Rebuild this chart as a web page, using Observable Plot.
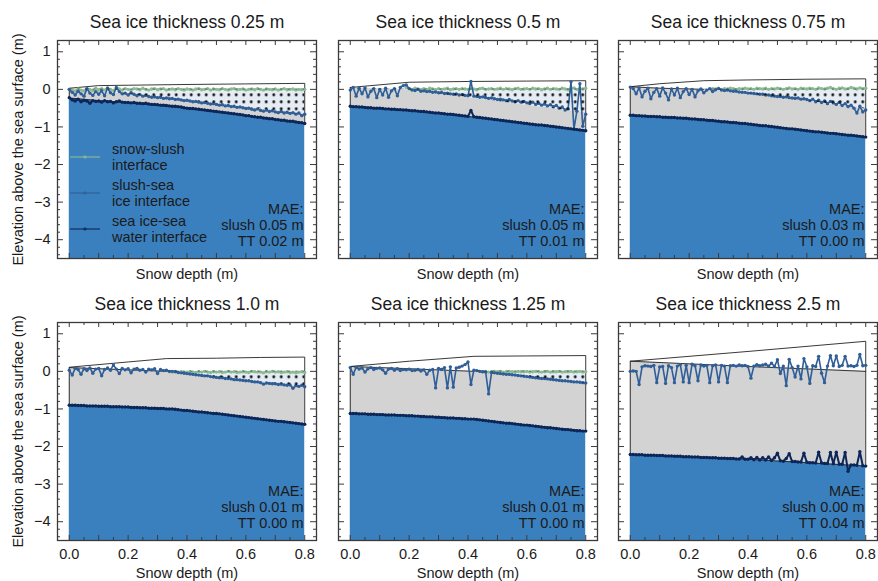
<!DOCTYPE html>
<html><head><meta charset="utf-8">
<script src="https://cdn.jsdelivr.net/npm/d3@7"></script>
<script src="https://cdn.jsdelivr.net/npm/@observablehq/plot@0.6"></script>
<style>
html,body{margin:0;padding:0;background:#fff;}
#chart{position:relative;width:878px;height:581px;overflow:hidden;font-family:"Liberation Sans",Arial,Helvetica,sans-serif;}
</style></head><body><div id="chart"></div>
<script>
// ---------- shared axes / labels ----------
const titles = ["Sea ice thickness 0.25 m","Sea ice thickness 0.5 m","Sea ice thickness 0.75 m","Sea ice thickness 1.0 m","Sea ice thickness 1.25 m","Sea ice thickness 2.5 m"];
const maeSlush = ["0.05","0.05","0.03","0.01","0.01","0.00"];
const maeTT = ["0.02","0.01","0.00","0.00","0.00","0.04"];
const xLabel = "Snow depth (m)";
const yLabel = "Elevation above the sea surface (m)";
const legendLabels = [["snow-slush","interface"],["slush-sea","ice interface"],["sea ice-sea","water interface"]];
const xDomain = [-0.04, 0.84];
const yDomain = [-4.5, 1.3];
const xTickLabels = [0, 0.2, 0.4, 0.6, 0.8];
const xMajorTicks = [0,0.1,0.2,0.3,0.4,0.5,0.6,0.7,0.8];
const xMinorTicks = [0.05,0.15,0.25,0.35,0.45,0.55,0.65,0.75];
const yMajorTicks = [-4,-3,-2,-1,0,1];
const yMinorTicks = [-4.4,-4.2,-3.8,-3.6,-3.4,-3.2,-2.8,-2.6,-2.4,-2.2,-1.8,-1.6,-1.4,-1.2,-0.8,-0.6,-0.4,-0.2,0.2,0.4,0.6,0.8,1.2];

// snow depth sample positions of the estimated interfaces
const snowDepth = [0.00,0.01,0.02,0.03,0.04,0.05,0.06,0.07,0.08,0.09,
0.10,0.11,0.12,0.13,0.14,0.15,0.16,0.17,0.18,0.19,
0.20,0.21,0.22,0.23,0.24,0.25,0.26,0.27,0.28,0.29,
0.30,0.31,0.32,0.33,0.34,0.35,0.36,0.37,0.38,0.39,
0.40,0.41,0.42,0.43,0.44,0.45,0.46,0.47,0.48,0.49,
0.50,0.51,0.52,0.53,0.54,0.55,0.56,0.57,0.58,0.59,
0.60,0.61,0.62,0.63,0.64,0.65,0.66,0.67,0.68,0.69,
0.70,0.71,0.72,0.73,0.74,0.75,0.76,0.77,0.78,0.79,0.80];

// ---------- true layer geometry (knots) ----------
const knotX025 = [0, 0.1, 0.2, 0.4, 0.6, 0.8];
const snowTop025 = [0.03, 0.10, 0.11, 0.13, 0.145, 0.16];
const iceTop025 = [0.02, -0.06, -0.13, -0.28, -0.48, -0.65];
const iceBottom025 = [-0.23, -0.30, -0.35, -0.50, -0.70, -0.90];

const knotX050 = [0, 0.2, 0.4, 0.6, 0.8];
const snowTop050 = [0.05, 0.19, 0.21, 0.22, 0.23];
const iceTop050 = [0.05, -0.02, -0.22, -0.42, -0.62];
const iceBottom050 = [-0.45, -0.56, -0.72, -0.91, -1.10];

const knotX075 = [0, 0.1, 0.25, 0.4, 0.6, 0.8];
const snowTop075 = [0.07, 0.15, 0.23, 0.25, 0.27, 0.28];
const iceTop075 = [0.07, 0.03, 0.0, -0.12, -0.30, -0.52];
const iceBottom075 = [-0.69, -0.73, -0.80, -0.92, -1.10, -1.27];

const knotX100 = [0, 0.2, 0.33, 0.5, 0.65, 0.8];
const snowTop100 = [0.11, 0.25, 0.34, 0.35, 0.37, 0.38];
const iceTop100 = [0.10, 0.04, 0.0, -0.15, -0.27, -0.40];
const iceBottom100 = [-0.90, -0.95, -0.99, -1.12, -1.27, -1.41];

const knotX125 = [0, 0.2, 0.42, 0.6, 0.8];
const snowTop125 = [0.13, 0.27, 0.40, 0.41, 0.42];
const iceTop125 = [0.13, 0.07, 0.0, -0.14, -0.32];
const iceBottom125 = [-1.12, -1.18, -1.27, -1.43, -1.59];

const knotX250 = [0, 0.4, 0.8];
const snowTop250 = [0.27, 0.53, 0.80];
const iceTop250 = [0.27, 0.13, 0.0];
const iceBottom250 = [-2.21, -2.34, -2.52];

// ---------- estimated interfaces ----------
// snow-slush interface (start index into snowDepth + values)
const snowSlushFrom025 = 0;
const snowSlush025 = [0.00,-0.03,-0.05,0.01,-0.02,-0.04,0.02,0.00,-0.03,0.03,
-0.01,0.02,-0.02,0.04,0.00,-0.03,0.03,0.01,-0.02,0.02,
0.00,-0.02,0.02,0.01,-0.01,0.03,0.00,-0.02,0.01,0.02,
-0.01,0.01,0.02,-0.02,0.00,0.01,-0.01,0.02,0.00,-0.02,
0.01,0.00,-0.02,0.01,0.02,-0.01,0.00,0.02,-0.02,0.01,
0.00,-0.01,0.02,0.00,-0.02,0.01,0.02,-0.01,0.00,0.01,
-0.02,0.00,0.01,-0.01,0.02,0.00,-0.02,0.01,0.00,-0.01,
0.01,-0.02,0.00,0.02,-0.01,0.00,0.01,-0.02,0.00,-0.01,0.00];
const snowSlushFrom050 = 19;
const snowSlush050 = [0.05,0.02,0.00,0.03,0.01,-0.01,0.02,0.00,0.03,0.01,-0.01,
0.02,0.00,0.01,0.03,-0.01,0.01,0.02,0.00,0.02,0.01,
0.00,0.02,0.01,-0.01,0.02,0.03,0.00,0.01,0.02,0.00,
0.01,0.03,0.00,0.02,0.01,-0.01,0.02,0.03,0.00,0.01,
0.02,0.00,0.03,0.01,0.02,-0.01,0.01,0.03,0.00,0.02,
0.01,0.00,0.03,0.01,-0.01,0.02,0.04,0.00,0.02,0.01,0.03];
const snowSlushFrom075 = 28;
const snowSlush075 = [0.02,0.01,0.03,0.00,0.02,0.01,0.03,0.02,0.00,0.02,0.01,0.03,
0.01,0.02,0.00,0.03,0.02,0.01,0.03,0.00,0.02,0.01,
0.03,0.02,0.00,0.02,0.04,0.01,0.02,0.00,0.03,0.02,
0.01,0.03,0.02,0.00,0.04,0.02,0.01,0.03,0.05,0.02,
0.00,0.03,0.04,0.01,0.02,0.05,0.03,0.01,0.04,0.02,0.03];
const snowSlushFrom100 = 34;
const snowSlush100 = [-0.01,-0.02,0.00,-0.02,-0.01,-0.03,
-0.02,-0.01,-0.02,-0.03,-0.01,-0.02,0.00,-0.02,-0.03,-0.01,
-0.02,-0.01,-0.03,-0.02,0.00,-0.02,-0.01,-0.03,-0.02,-0.01,
-0.02,-0.03,0.00,-0.01,-0.02,-0.02,-0.04,-0.01,-0.02,0.00,
-0.02,-0.01,-0.03,-0.02,-0.01,-0.03,-0.02,-0.04,-0.02,-0.01,-0.03];
const snowSlushFrom125 = 44;
const snowSlush125 = [0.00,-0.01,0.00,-0.02,-0.01,0.00,
-0.01,0.00,-0.02,-0.01,0.00,-0.01,-0.02,0.00,-0.01,-0.01,
0.00,-0.02,-0.01,0.00,-0.01,-0.02,-0.01,0.00,-0.02,-0.01,
-0.01,0.00,-0.02,-0.01,-0.01,0.00,-0.02,-0.01,0.00,-0.02,-0.01];
const snowSlushFrom250 = 0;
const snowSlush250 = [];

// slush-sea ice interface
const slushIce025 = [0.00,-0.08,-0.15,-0.05,-0.12,-0.18,0.02,-0.10,-0.16,-0.06,
-0.13,-0.04,-0.17,0.03,-0.09,-0.14,0.05,-0.06,-0.12,-0.10,
-0.15,-0.09,-0.13,-0.17,-0.14,-0.18,-0.16,-0.19,-0.21,-0.20,
-0.22,-0.21,-0.24,-0.23,-0.25,-0.24,-0.27,-0.26,-0.28,-0.30,
-0.29,-0.31,-0.33,-0.32,-0.34,-0.36,-0.35,-0.37,-0.39,-0.38,
-0.40,-0.42,-0.41,-0.44,-0.43,-0.46,-0.45,-0.48,-0.47,-0.49,
-0.51,-0.50,-0.53,-0.55,-0.52,-0.56,-0.58,-0.55,-0.59,-0.57,
-0.60,-0.62,-0.59,-0.63,-0.61,-0.64,-0.62,-0.66,-0.63,-0.70,-0.66];
const slushIce050 = [-0.02,0.05,-0.18,0.03,-0.12,0.04,-0.20,-0.05,0.02,-0.22,
0.00,-0.15,0.03,-0.21,-0.04,0.02,-0.17,0.05,0.10,0.12,
0.02,-0.02,-0.03,0.00,-0.05,-0.04,-0.06,-0.05,-0.08,-0.07,
-0.09,-0.08,-0.11,-0.10,-0.12,-0.13,-0.12,-0.15,-0.14,-0.16,
-0.17,0.21,-0.18,-0.19,-0.21,-0.20,-0.22,-0.24,-0.23,-0.25,
-0.27,-0.26,-0.28,-0.30,-0.27,-0.31,-0.33,-0.30,-0.34,-0.32,
-0.36,-0.38,-0.34,-0.40,-0.37,-0.42,-0.39,-0.44,-0.41,-0.46,
-0.43,-0.50,-0.47,-0.55,-0.52,0.20,-1.05,-0.58,0.15,-0.98,-0.66];
const slushIce075 = [0.06,0.02,-0.12,0.04,-0.20,-0.05,0.03,-0.25,-0.08,0.02,
-0.18,0.04,-0.10,-0.28,0.01,-0.15,0.03,-0.22,-0.06,0.02,
-0.14,0.00,-0.20,-0.04,0.01,-0.09,-0.02,0.02,-0.06,-0.01,
0.02,-0.02,-0.03,-0.02,-0.04,-0.05,-0.05,-0.07,-0.08,-0.08,
-0.10,-0.10,-0.11,-0.12,-0.13,-0.13,-0.15,-0.15,-0.17,-0.18,
-0.19,-0.19,-0.21,-0.20,-0.22,-0.23,-0.24,-0.23,-0.26,-0.25,
-0.27,-0.30,-0.26,-0.33,-0.29,-0.35,-0.31,-0.38,-0.32,-0.36,
-0.40,-0.35,-0.43,-0.38,-0.46,-0.42,-0.50,-0.63,-0.45,-0.60,-0.55];
const slushIce100 = [0.03,-0.10,0.08,0.05,-0.08,0.07,0.02,0.09,-0.05,0.06,
0.08,-0.12,0.05,0.09,0.03,0.17,0.06,-0.06,0.08,0.04,
0.07,-0.04,0.06,0.08,0.03,0.05,-0.02,0.06,0.04,0.07,
-0.06,0.05,0.02,0.03,0.00,0.00,-0.01,-0.03,-0.04,-0.05,
-0.06,-0.07,-0.08,-0.09,-0.10,-0.11,-0.12,-0.12,-0.14,-0.15,
-0.16,-0.17,-0.17,-0.19,-0.19,-0.20,-0.22,-0.22,-0.23,-0.24,
-0.25,-0.25,-0.27,-0.28,-0.28,-0.30,-0.34,-0.31,-0.32,-0.33,
-0.33,-0.35,-0.34,-0.36,-0.37,-0.36,-0.45,-0.38,-0.40,-0.37,-0.41];
const slushIce125 = [0.10,-0.08,0.11,0.06,0.09,-0.02,0.07,0.10,0.05,0.08,
0.09,0.04,-0.05,0.06,0.08,0.03,0.07,0.02,0.05,0.04,
0.06,0.02,0.03,0.05,0.01,0.04,-0.08,0.03,0.05,-0.44,
0.08,0.05,0.10,-0.44,0.12,-0.42,0.09,0.11,0.14,0.18,
0.25,-0.35,0.03,0.02,0.00,-0.01,-0.02,-0.60,-0.03,-0.04,
-0.05,-0.06,-0.07,-0.08,-0.08,-0.09,-0.10,-0.11,-0.12,-0.13,
-0.14,-0.15,-0.16,-0.17,-0.18,-0.19,-0.19,-0.20,-0.21,-0.22,
-0.23,-0.24,-0.25,-0.25,-0.26,-0.27,-0.28,-0.28,-0.29,-0.30,-0.31];
const slushIce250 = [0.00,0.01,0.00,-0.35,0.12,0.15,0.14,0.13,0.16,-0.30,
0.12,0.13,-0.32,0.15,0.10,-0.30,0.14,0.18,-0.28,0.16,
-0.30,0.19,0.15,-0.25,0.17,0.14,0.16,-0.30,0.15,0.17,
-0.28,0.16,0.14,-0.30,0.15,0.16,0.14,0.17,0.15,0.16,
0.13,-0.18,0.14,0.18,0.15,0.17,0.19,0.14,0.22,0.13,
0.31,-0.06,0.14,-0.38,0.32,0.10,-0.15,0.14,-0.20,0.34,
0.12,-0.32,0.15,0.13,0.40,-0.05,-0.30,0.14,0.42,0.15,
0.41,0.13,0.16,0.40,0.14,0.15,0.13,0.16,0.45,0.15,0.16];

// sea ice-sea water interface
const iceWater025 = [-0.22,-0.28,-0.31,-0.26,-0.33,-0.29,-0.31,-0.37,-0.30,-0.32,
-0.31,-0.34,-0.30,-0.33,-0.32,-0.36,-0.33,-0.31,-0.34,-0.35,
-0.35,-0.36,-0.35,-0.37,-0.37,-0.38,-0.37,-0.39,-0.40,-0.40,
-0.41,-0.42,-0.42,-0.43,-0.44,-0.45,-0.45,-0.46,-0.47,-0.49,
-0.50,-0.51,-0.51,-0.52,-0.53,-0.54,-0.55,-0.56,-0.57,-0.58,
-0.59,-0.60,-0.61,-0.62,-0.63,-0.64,-0.65,-0.66,-0.67,-0.68,
-0.70,-0.70,-0.72,-0.73,-0.74,-0.74,-0.76,-0.77,-0.78,-0.78,
-0.80,-0.81,-0.82,-0.82,-0.84,-0.85,-0.85,-0.87,-0.88,-0.89,-0.91];
const iceWater050 = [-0.45,-0.46,-0.46,-0.47,-0.47,-0.48,-0.49,-0.49,-0.50,-0.50,
-0.50,-0.51,-0.52,-0.52,-0.53,-0.53,-0.54,-0.54,-0.55,-0.55,
-0.56,-0.57,-0.57,-0.58,-0.59,-0.59,-0.60,-0.61,-0.62,-0.63,
-0.63,-0.64,-0.65,-0.66,-0.66,-0.67,-0.68,-0.69,-0.70,-0.71,
-0.72,-0.56,-0.73,-0.74,-0.75,-0.76,-0.77,-0.78,-0.79,-0.80,
-0.81,-0.82,-0.83,-0.84,-0.85,-0.86,-0.87,-0.88,-0.89,-0.90,
-0.91,-0.92,-0.93,-0.94,-0.95,-0.95,-0.96,-0.97,-0.98,-0.99,
-1.00,-1.01,-1.02,-1.03,-1.04,-1.05,-1.06,-1.07,-1.08,-1.09,-1.10];
const iceWater075 = [-0.69,-0.69,-0.70,-0.70,-0.71,-0.71,-0.72,-0.72,-0.72,-0.73,
-0.73,-0.74,-0.74,-0.75,-0.75,-0.75,-0.76,-0.76,-0.77,-0.77,
-0.78,-0.79,-0.79,-0.80,-0.81,-0.81,-0.82,-0.83,-0.83,-0.84,
-0.85,-0.86,-0.86,-0.87,-0.88,-0.88,-0.89,-0.90,-0.91,-0.91,
-0.92,-0.93,-0.94,-0.95,-0.96,-0.97,-0.97,-0.98,-0.99,-1.00,
-1.01,-1.02,-1.03,-1.04,-1.05,-1.05,-1.06,-1.07,-1.08,-1.09,
-1.10,-1.11,-1.12,-1.13,-1.13,-1.14,-1.15,-1.16,-1.17,-1.17,
-1.18,-1.19,-1.20,-1.21,-1.22,-1.22,-1.23,-1.24,-1.25,-1.26,-1.27];
const iceWater100 = [-0.90,-0.90,-0.90,-0.91,-0.91,-0.91,-0.92,-0.92,-0.92,-0.92,
-0.93,-0.93,-0.93,-0.93,-0.94,-0.94,-0.94,-0.94,-0.95,-0.95,
-0.95,-0.96,-0.96,-0.96,-0.97,-0.97,-0.97,-0.98,-0.98,-0.98,
-0.99,-0.99,-0.99,-1.00,-1.00,-1.00,-1.01,-1.02,-1.03,-1.04,
-1.04,-1.05,-1.06,-1.07,-1.08,-1.08,-1.09,-1.10,-1.11,-1.12,
-1.12,-1.13,-1.14,-1.15,-1.16,-1.17,-1.18,-1.19,-1.20,-1.21,
-1.22,-1.23,-1.24,-1.25,-1.26,-1.27,-1.28,-1.29,-1.30,-1.31,
-1.32,-1.33,-1.33,-1.34,-1.35,-1.36,-1.37,-1.38,-1.39,-1.40,-1.41];
const iceWater125 = [-1.12,-1.12,-1.12,-1.13,-1.13,-1.13,-1.14,-1.14,-1.14,-1.15,
-1.15,-1.15,-1.16,-1.16,-1.16,-1.16,-1.17,-1.17,-1.17,-1.18,
-1.18,-1.18,-1.19,-1.19,-1.20,-1.20,-1.21,-1.21,-1.21,-1.22,
-1.22,-1.23,-1.23,-1.24,-1.24,-1.24,-1.25,-1.25,-1.26,-1.26,
-1.27,-1.27,-1.27,-1.28,-1.29,-1.30,-1.31,-1.32,-1.33,-1.34,
-1.35,-1.36,-1.37,-1.38,-1.38,-1.39,-1.40,-1.41,-1.42,-1.43,
-1.43,-1.44,-1.45,-1.46,-1.47,-1.48,-1.49,-1.50,-1.50,-1.51,
-1.52,-1.53,-1.54,-1.55,-1.55,-1.56,-1.57,-1.58,-1.58,-1.59,-1.59];
const iceWater250 = [-2.21,-2.21,-2.22,-2.22,-2.22,-2.23,-2.23,-2.23,-2.23,-2.24,
-2.24,-2.24,-2.25,-2.25,-2.25,-2.26,-2.26,-2.26,-2.27,-2.27,
-2.27,-2.28,-2.28,-2.28,-2.29,-2.29,-2.29,-2.30,-2.30,-2.30,
-2.31,-2.31,-2.31,-2.32,-2.32,-2.32,-2.33,-2.33,-2.28,-2.34,
-2.34,-2.30,-2.35,-2.29,-2.36,-2.30,-2.36,-2.28,-2.37,-2.30,
-2.18,-2.38,-2.39,-2.32,-2.19,-2.40,-2.40,-2.41,-2.41,-2.18,
-2.42,-2.43,-2.43,-2.44,-2.15,-2.44,-2.45,-2.45,-2.16,-2.46,
-2.15,-2.47,-2.47,-2.16,-2.66,-2.49,-2.49,-2.50,-2.14,-2.51,-2.52];

// ---------- colours ----------
const C = {water:"#3a80be", ice:"#d3d3d3", slushBg:"#e6ecf4", dot:"#111", green:"#8cba93", blue:"#2f5e98", navy:"#0c2658", outline:"#222", frame:"#3a3a3a", text:"#1a1a1a"};

const panels = [
  {knotX:knotX025, snowTop:snowTop025, iceTop:iceTop025, iceBottom:iceBottom025, green:snowSlush025, greenFrom:snowSlushFrom025, blue:slushIce025, navy:iceWater025},
  {knotX:knotX050, snowTop:snowTop050, iceTop:iceTop050, iceBottom:iceBottom050, green:snowSlush050, greenFrom:snowSlushFrom050, blue:slushIce050, navy:iceWater050},
  {knotX:knotX075, snowTop:snowTop075, iceTop:iceTop075, iceBottom:iceBottom075, green:snowSlush075, greenFrom:snowSlushFrom075, blue:slushIce075, navy:iceWater075},
  {knotX:knotX100, snowTop:snowTop100, iceTop:iceTop100, iceBottom:iceBottom100, green:snowSlush100, greenFrom:snowSlushFrom100, blue:slushIce100, navy:iceWater100},
  {knotX:knotX125, snowTop:snowTop125, iceTop:iceTop125, iceBottom:iceBottom125, green:snowSlush125, greenFrom:snowSlushFrom125, blue:slushIce125, navy:iceWater125},
  {knotX:knotX250, snowTop:snowTop250, iceTop:iceTop250, iceBottom:iceBottom250, green:snowSlush250, greenFrom:snowSlushFrom250, blue:slushIce250, navy:iceWater250}
];

const chart = document.getElementById("chart");
const W = 259, H = 218;
const frameLefts = [57, 338, 618];
const frameTops = [40, 322];
const FONT = '"Liberation Sans", Arial, Helvetica, sans-serif';

panels.forEach((p, i) => {
  const col = i % 3, row = Math.floor(i / 3);
  const mL = col === 0 ? 57 : 14;
  const mR = col === 2 ? 1 : 6;
  const mT = 40, mB = row === 0 ? 40 : 42;
  const knots = p.knotX.map((x, k) => ({x, snowTop: p.snowTop[k], iceTop: p.iceTop[k], iceBottom: p.iceBottom[k]}));
  const slushKnots = knots.map(d => ({x: d.x, top: 0, bottom: Math.min(0, d.iceTop)}));
  const n = knots.length;
  const outline = [{x: knots[0].x, y: knots[0].iceBottom},
    ...knots.map(d => ({x: d.x, y: d.snowTop})),
    {x: knots[n-1].x, y: knots[n-1].iceBottom},
    ...knots.slice().reverse().map(d => ({x: d.x, y: d.iceBottom}))];
  const est = snowDepth.map((s, j) => ({s, blue: p.blue[j], navy: p.navy[j]}));
  const green = p.green.map((v, j) => ({s: snowDepth[j + p.greenFrom], v}));
  const patId = `slushdots-${i}`;

  const marks = [
    Plot.areaY(slushKnots, {x: "x", y1: "bottom", y2: "top", fill: C.slushBg}),
    Plot.areaY(knots, {x: "x", y1: "iceBottom", y2: "iceTop", fill: C.ice}),
    Plot.areaY(knots, {x: "x", y1: yDomain[0], y2: "iceBottom", fill: C.water}),
    Plot.line(outline, {x: "x", y: "y", stroke: C.outline, strokeWidth: 0.9}),
    Plot.line(knots.filter(d => d.iceTop >= 0), {x: "x", y: "iceTop", stroke: C.outline, strokeWidth: 0.9}),
    Plot.line(green, {x: "s", y: "v", stroke: C.green, strokeWidth: 1.8}),
    Plot.dot(green, {x: "s", y: "v", r: 1.7, fill: C.green}),
    Plot.line(est, {x: "s", y: "blue", stroke: C.blue, strokeWidth: 1.6}),
    Plot.dot(est, {x: "s", y: "blue", r: 1.7, fill: C.blue}),
    Plot.line(est, {x: "s", y: "navy", stroke: C.navy, strokeWidth: 2}),
    Plot.dot(est, {x: "s", y: "navy", r: 1.7, fill: C.navy}),
    // slush hatch (dots) drawn over the interface lines
    Plot.areaY(slushKnots, {x: "x", y1: "bottom", y2: "top", fill: `url(#${patId})`}),
    Plot.ruleX(xMajorTicks, {x: d => d, insetTop: H - 5, stroke: C.frame}),
    Plot.ruleX(xMajorTicks, {x: d => d, insetBottom: H - 5, stroke: C.frame}),
    Plot.ruleX(xMinorTicks, {x: d => d, insetTop: H - 3, stroke: C.frame}),
    Plot.ruleX(xMinorTicks, {x: d => d, insetBottom: H - 3, stroke: C.frame}),
    Plot.ruleY(yMajorTicks, {y: d => d, insetRight: W - 6, stroke: C.frame}),
    Plot.ruleY(yMajorTicks, {y: d => d, insetLeft: W - 6, stroke: C.frame}),
    Plot.ruleY(yMinorTicks, {y: d => d, insetRight: W - 3, stroke: C.frame}),
    Plot.ruleY(yMinorTicks, {y: d => d, insetLeft: W - 3, stroke: C.frame}),
    Plot.frame({stroke: C.frame, strokeWidth: 1.3}),
    Plot.text([titles[i]], {text: d => d, frameAnchor: "top", dy: -18, textAnchor: "middle", lineAnchor: "middle", fontSize: 17.5, fill: C.text}),
    Plot.text([xLabel], {text: d => d, frameAnchor: "bottom", dy: row === 0 ? 16 : 33, textAnchor: "middle", lineAnchor: "middle", fill: C.text}),
    Plot.text([`MAE:\nslush ${maeSlush[i]} m\nTT ${maeTT[i]} m`], {text: d => d, frameAnchor: "bottom-right", dx: -13, dy: -13, textAnchor: "end", lineAnchor: "bottom", lineHeight: 1.07, fill: C.text})
  ];
  if (row === 1) marks.push(Plot.text(xTickLabels, {x: d => d, text: d => d3.format(".1f")(d), frameAnchor: "bottom", dy: 14, textAnchor: "middle", lineAnchor: "middle", fill: C.text}));
  if (col === 0) marks.push(
    Plot.text(yMajorTicks, {y: d => d, text: d => d3.format("d")(d), frameAnchor: "left", dx: -7, textAnchor: "end", lineAnchor: "middle", fill: C.text}),
    Plot.text([yLabel], {text: d => d, frameAnchor: "left", dx: -39, rotate: -90, textAnchor: "middle", lineAnchor: "middle", fill: C.text})
  );

  const svg = Plot.plot({
    width: mL + W + mR, height: mT + H + mB,
    marginLeft: mL, marginRight: mR, marginTop: mT, marginBottom: mB,
    x: {domain: xDomain, axis: null},
    y: {domain: yDomain, axis: null},
    style: {fontFamily: FONT, fontSize: "14.5px", background: "transparent", color: C.text, overflow: "visible"},
    marks
  });
  svg.style.position = "absolute";
  svg.style.left = (frameLefts[col] - mL) + "px";
  svg.style.top = (frameTops[row] - mT) + "px";
  svg.style.maxWidth = "none";

  // slush dot hatch pattern (transparent background)
  const y0 = svg.scale("y").apply(0);
  const defs = d3.select(svg).insert("defs", ":first-child");
  const pat = defs.append("pattern").attr("id", patId).attr("patternUnits", "userSpaceOnUse")
    .attr("width", 7.5).attr("height", 7).attr("x", 0).attr("y", y0 + 2.5);
  pat.append("circle").attr("cx", 3.75).attr("cy", 3.5).attr("r", 1.45).attr("fill", C.dot);

  // legend (first panel)
  if (i === 0) {
    const colors = [C.green, C.blue, C.navy];
    const g = d3.select(svg).append("g").attr("font-family", FONT).attr("font-size", 14.5)
      .attr("fill", C.text).attr("text-anchor", "start");
    legendLabels.forEach((lab, k) => {
      const ym = mT + 117 + k * 36;
      g.append("line").attr("x1", mL + 13).attr("x2", mL + 43).attr("y1", ym).attr("y2", ym)
        .attr("stroke", colors[k]).attr("stroke-width", 1.6).attr("opacity", 0.7);
      g.append("circle").attr("cx", mL + 28).attr("cy", ym).attr("r", 1.7).attr("fill", colors[k]).attr("opacity", 0.7);
      const t = g.append("text").attr("text-anchor", "start");
      t.append("tspan").attr("x", mL + 55).attr("y", ym - 7.6).attr("dy", "0.35em").text(lab[0]);
      t.append("tspan").attr("x", mL + 55).attr("y", ym + 7.6).attr("dy", "0.35em").text(lab[1]);
    });
  }
  chart.appendChild(svg);
});
</script></body></html>
